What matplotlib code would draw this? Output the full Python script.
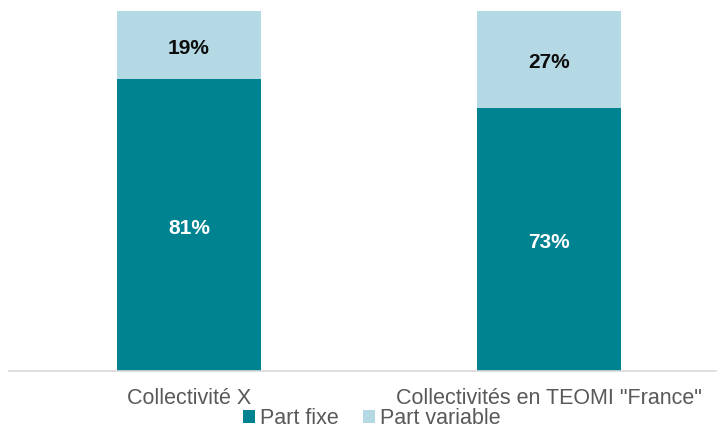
import matplotlib
matplotlib.use("Agg")
import matplotlib.pyplot as plt
import numpy as np
from matplotlib.patches import Patch

plt.rcParams['font.family'] = ['Liberation Sans', 'DejaVu Sans']

categories = ["Collectivité X", 'Collectivités en TEOMI "France"']
part_fixe = [81, 73]
part_variable = [19, 27]
series_names = ["Part fixe", "Part variable"]

TEAL = "#008391"
LIGHT = "#B5D9E4"
GRAY = "#595959"
AXIS = "#D9D9D9"

W, H = 718, 428
fig = plt.figure(figsize=(W / 100, H / 100), dpi=100)
ax = fig.add_axes([9 / W, 1 - 371 / H, (716 - 9) / W, (371 - 11) / H])

x = np.arange(len(categories))
ax.bar(x, part_fixe, width=0.4, color=TEAL)
ax.bar(x, part_variable, width=0.4, bottom=part_fixe, color=LIGHT)

# Excel places labels a touch below the segment middle
shift = -0.85
for xi, f, v in zip(x, part_fixe, part_variable):
    ax.text(xi, f / 2 + shift, f"{f}%", ha="center", va="center",
            fontsize=15, fontweight="bold", color="white")
    ax.text(xi, f + v / 2 + shift, f"{v}%", ha="center", va="center",
            fontsize=15, fontweight="bold", color="#0D0D0D")

ax.set_xlim(-0.5, -0.5 + (716 - 9) / 360)
ax.set_ylim(0, 100)
ax.set_yticks([])
ax.set_xticks(x)
ax.set_xticklabels(categories, fontsize=15.5, color=GRAY)
ax.tick_params(axis="x", length=0, pad=12.5)
for side in ("top", "left", "right"):
    ax.spines[side].set_visible(False)
ax.spines["bottom"].set_color(AXIS)
ax.spines["bottom"].set_linewidth(1.2)

handles = [Patch(facecolor=TEAL, label=series_names[0]),
           Patch(facecolor=LIGHT, label=series_names[1])]
fig.legend(handles=handles, loc="center", bbox_to_anchor=(372 / W, 1 - 419 / H),
           ncol=2, frameon=False, fontsize=15.5, labelcolor=GRAY,
           handlelength=0.56, handleheight=0.56, handletextpad=0.25,
           columnspacing=1.1, borderpad=0, borderaxespad=0)

fig.savefig("out.png", dpi=100, facecolor="white")
